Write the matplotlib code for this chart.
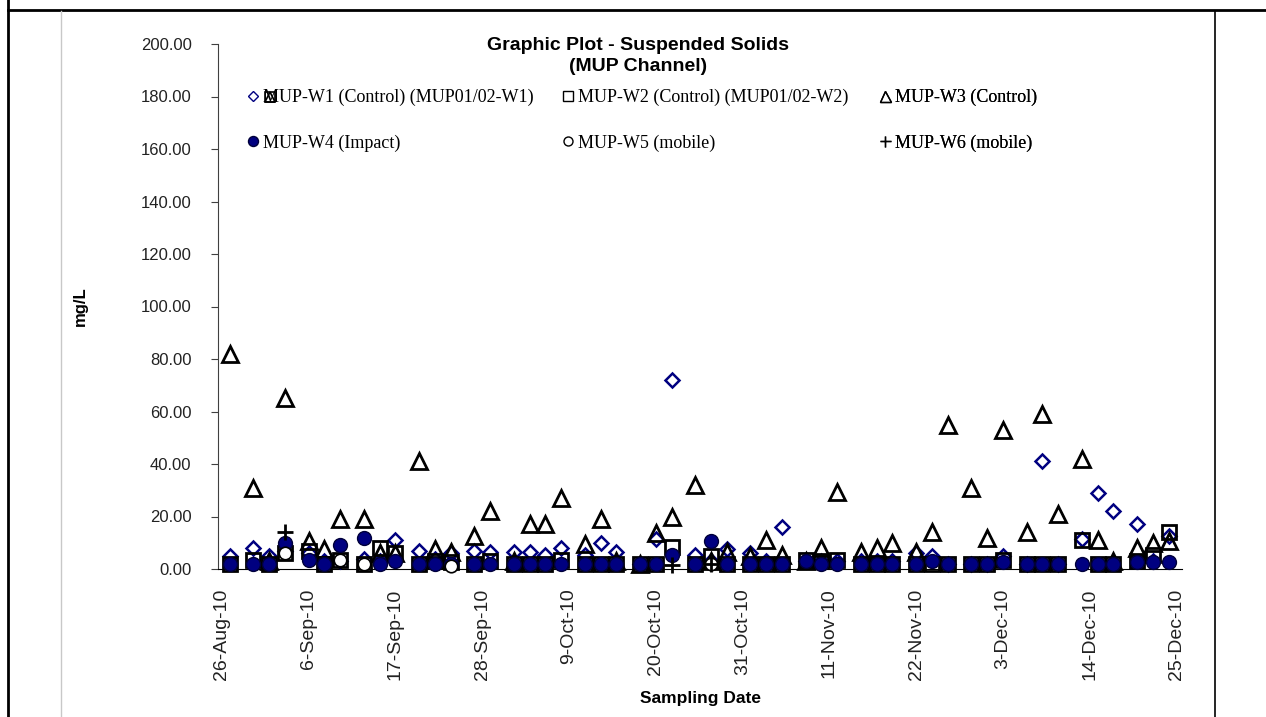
import matplotlib
matplotlib.use('Agg')
import matplotlib.pyplot as plt
import matplotlib.dates as mdates
from matplotlib.lines import Line2D
import pandas as pd

# sampling dates (Mon/Wed/Fri)
dates = pd.to_datetime([
    '2010-08-27', '2010-08-30', '2010-09-01', '2010-09-03', '2010-09-06', '2010-09-08',
    '2010-09-10', '2010-09-13', '2010-09-15', '2010-09-17', '2010-09-20', '2010-09-22',
    '2010-09-24', '2010-09-27', '2010-09-29', '2010-10-02', '2010-10-04', '2010-10-06',
    '2010-10-08', '2010-10-11', '2010-10-13', '2010-10-15', '2010-10-18', '2010-10-20',
    '2010-10-22', '2010-10-25', '2010-10-27', '2010-10-29', '2010-11-01', '2010-11-03',
    '2010-11-05', '2010-11-08', '2010-11-10', '2010-11-12', '2010-11-15', '2010-11-17',
    '2010-11-19', '2010-11-22', '2010-11-24', '2010-11-26', '2010-11-29', '2010-12-01',
    '2010-12-03', '2010-12-06', '2010-12-08', '2010-12-10', '2010-12-13', '2010-12-15',
    '2010-12-17', '2010-12-20', '2010-12-22', '2010-12-24'])

w1 = [5, 8, 5, 7, 6, 3, 3, 4, 3, 11, 7, 4, 6, 7, 6.5, 6.3, 6.3, 5.5, 8, 5.5, 10, 6.3, 2,
      11.5, 72, 5.5, 3, 7.5, 6, 3, 16, 3, 3, 3, 3, 3, 3, 6, 5, 2, 2, 2, 5, 2, 41, 2, 11.5,
      29, 22, 17, 3, 12.5]
w2 = [2, 3.5, 2, 6, 7, 2, 3.5, 2, 8, 6, 2, 3, 2.5, 2, 3, 2, 2, 2, 3.5, 2, 2, 2, 2, 2, 8.5,
      2, 5, 2, 2, 2, 2, 3.5, 3, 3.5, 2, 2, 2, 2, 2, 2, 2, 2, 3.5, 2, 2, 2, 11, 2, 2, 3, 5.5, 14]
w3 = [82, 31, 3, 65, 10.5, 7.7, 19, 19, 6, 6, 41, 7.7, 6.5, 12.5, 22, 3, 17, 17, 27, 9.5,
      19, 3, 2, 13.7, 20, 32, 3, 6.5, 5, 11, 5.5, 3, 8, 29.5, 6.5, 8, 10, 6.5, 14, 55, 31,
      12, 53, 14, 59, 21, 42, 11, 3, 8, 10, 10.5]
w4 = [2, 2, 2, 10, 3.5, 2, 9, 12, 2, 3, 2, 2, 2, 2, 2, 2, 2, 2, 2, 2, 2, 2, 2, 2, 5.5, 2,
      10.5, 2, 2, 2, 2, 3, 2, 2, 2, 2, 2, 2, 3, 2, 2, 2, 2.5, 2, 2, 2, 2, 2, 2, 2.5, 2.5, 2.5]

# mobile stations, only a few visits
w5_dates = pd.to_datetime(['2010-09-03', '2010-09-10', '2010-09-13', '2010-09-24', '2010-10-27'])
w5 = [6, 3.5, 2, 1, 2]
w6_dates = pd.to_datetime(['2010-09-03', '2010-10-22', '2010-10-27'])
w6 = [14, 1.5, 2]

labels = ['MUP-W1 (Control) (MUP01/02-W1)', 'MUP-W2 (Control) (MUP01/02-W2)',
          'MUP-W3 (Control)', 'MUP-W4 (Impact)', 'MUP-W5 (mobile)', 'MUP-W6 (mobile)']
tick_dates = pd.date_range('2010-08-26', '2010-12-25', freq='11D')

W, H = 1266, 717
navy = '#000080'
fig = plt.figure(figsize=(W / 100, H / 100), dpi=100)
ax = fig.add_axes([218 / W, 1 - 569 / H, (1182 - 218) / W, (569 - 44) / H])

styles = [dict(marker='D', ms=7.5, mfc='none', mec=navy, mew=1.8),
          dict(marker='s', ms=10, mfc='none', mec='black', mew=2),
          dict(marker='^', ms=11, mfc='none', mec='black', mew=2),
          dict(marker='o', ms=10, mfc=navy, mec='#00003a', mew=1),
          dict(marker='o', ms=9, mfc='white', mec='black', mew=1.2),
          dict(marker='+', ms=11, mec='black', mew=2)]
series = [(dates, w1), (dates, w2), (dates, w3), (dates, w4), (w5_dates, w5), (w6_dates, w6)]
for i, ((x, y), st) in enumerate(zip(series, styles)):
    ax.plot(x, y, ls='none', clip_on=False, zorder=3 + i, **st)

ax.set_ylim(0, 200)
ax.set_yticks(range(0, 201, 20))
ax.yaxis.set_major_formatter(plt.FuncFormatter(lambda v, p: '%.2f' % v))
ax.set_xlim(pd.Timestamp('2010-08-26') - pd.Timedelta(hours=12),
            pd.Timestamp('2010-12-25') + pd.Timedelta(hours=17))
ax.set_xticks(tick_dates)
ax.xaxis.set_major_formatter(plt.FuncFormatter(
    lambda v, p: '%d-%s' % (mdates.num2date(v).day, mdates.num2date(v).strftime('%b-%y'))))

for s in ['top', 'right']:
    ax.spines[s].set_visible(False)
ax.spines['left'].set_color('#404040')
ax.spines['bottom'].set_color('black')
ax.tick_params(axis='y', direction='out', length=5, color='#404040', pad=14,
               labelsize=12, labelcolor='#222222')
ax.tick_params(axis='x', length=0, pad=14, labelsize=14, labelcolor='#222222',
               labelrotation=90)
for t in ax.get_xticklabels() + ax.get_yticklabels():
    t.set_fontfamily('Liberation Sans')

ax.set_ylabel('mg/L', fontfamily='Liberation Sans', fontweight='bold', fontsize=12)
ax.yaxis.set_label_coords((88 - 218) / (1182 - 218), 0.5)
ax.set_xlabel('Sampling Date', fontfamily='Liberation Sans', fontweight='bold', fontsize=12.5)
ax.xaxis.set_label_coords(0.5, -(698 - 569) / (569 - 44))
ax.xaxis.label.set_va('center')

fig.text(638 / W, 1 - 37 / H, 'Graphic Plot - Suspended Solids\n(MUP Channel)',
         ha='center', va='top', fontfamily='Liberation Sans', fontweight='bold',
         fontsize=14, linespacing=1.3)

# legend: three columns of two rows, thin glyph-like markers
def leg_handle(st):
    st = dict(st)
    st['ms'] = st['ms'] * 0.72
    st['mew'] = 1.0
    return Line2D([], [], ls='none', **st)

cols = [([0, 3], 247), ([1, 4], 562), ([2, 5], 879)]
for idx, x0 in cols:
    leg = ax.legend([leg_handle(styles[i]) for i in idx], [labels[i] for i in idx],
                    loc='upper left', bbox_to_anchor=(x0 / W, 1 - 89 / H),
                    bbox_transform=fig.transFigure, frameon=False, borderpad=0,
                    borderaxespad=0, handlelength=0.7, handletextpad=0.2,
                    labelspacing=1.55, prop={'family': 'Liberation Serif', 'size': 13})
    ax.add_artist(leg)

# stray square/triangle glyphs printed over the "M" of the first legend entry
for m in ['s', '^']:
    fig.add_artist(Line2D([270 / W], [1 - 97 / H], transform=fig.transFigure, ls='none',
                          marker=m, ms=7, mfc='none', mec='black', mew=1.2))

# page / table frame
frame = [([8 / W, 8 / W], [0, 1], 'black', 2),
         ([8 / W, 1], [1 - 10 / H, 1 - 10 / H], 'black', 2),
         ([61 / W, 61 / W], [0, 1 - 11 / H], '#c8c8c8', 1),
         ([1215 / W, 1215 / W], [0, 1 - 11 / H], 'black', 1.2)]
for xs, ys, c, lw in frame:
    fig.add_artist(Line2D(xs, ys, transform=fig.transFigure, color=c, lw=lw))

fig.savefig('out.png', dpi=100)
